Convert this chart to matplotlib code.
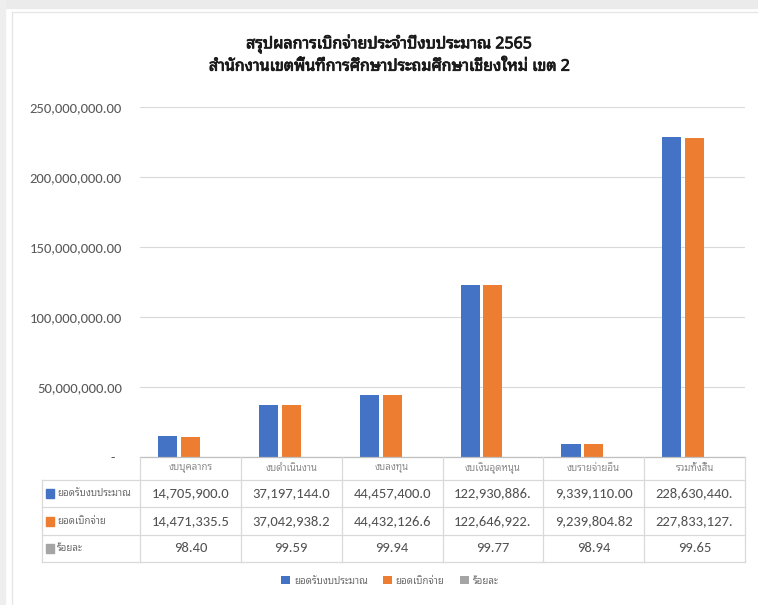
import matplotlib
matplotlib.use("Agg")
import matplotlib.pyplot as plt
import matplotlib.transforms as mtransforms
import matplotlib.patheffects as pe
from matplotlib.patches import Rectangle
from matplotlib.ticker import FuncFormatter
import numpy as np

plt.rcParams['font.family'] = ['Carlito', 'Noto Sans Thai Looped', 'DejaVu Sans']
THAI = ['Noto Sans Thai Looped', 'Carlito']

# ---- ข้อมูล
titre = "สรุปผลการเบิกจ่ายประจำปีงบประมาณ 2565\nสำนักงานเขตพื้นที่การศึกษาประถมศึกษาเชียงใหม่ เขต 2"
categories = ["งบบุคลากร", "งบดำเนินงาน", "งบลงทุน", "งบเงินอุดหนุน", "งบรายจ่ายอื่น", "รวมทั้งสิ้น"]
series_names = ["ยอดรับงบประมาณ", "ยอดเบิกจ่าย", "ร้อยละ"]
budget = [14705900.00, 37197144.00, 44457400.00, 122930886.00, 9339110.00, 228630440.00]
spent = [14471335.50, 37042938.20, 44432126.60, 122646922.00, 9239804.82, 227833127.12]
percent = [98.40, 99.59, 99.94, 99.77, 98.94, 99.65]
colors = ["#4472C4", "#ED7D31", "#A5A5A5"]

W, H = 758, 605
fig = plt.figure(figsize=(W / 100, H / 100), dpi=100)

def fx(px):
    return px / W

def fy(py):
    return 1 - py / H

# cadre de la capture
fig.patches.append(Rectangle((0, fy(8)), 1, 8 / H, transform=fig.transFigure, color="#ebebeb", zorder=0))
fig.patches.append(Rectangle((0, 0), 5 / W, 1, transform=fig.transFigure, color="#eeeeee", zorder=0))
fig.add_artist(plt.Line2D([fx(12), fx(12)], [0, fy(12)], transform=fig.transFigure, color="#e6e6e6", lw=1))
fig.add_artist(plt.Line2D([fx(12), 1], [fy(12), fy(12)], transform=fig.transFigure, color="#e6e6e6", lw=1))

ax = fig.add_axes([fx(140), fy(457), fx(745) - fx(140), (457 - 107) / H])

x = np.arange(len(categories))
width = 0.19
step = 0.225
series = [budget, spent, percent]
bars = []
for k in range(3):
    b = ax.bar(x + (k - 1) * step, series[k], width, color=colors[k], label=series_names[k], zorder=3)
    bars.append(b)

ax.set_xlim(-0.5, len(categories) - 0.5)
ax.set_ylim(0, 250000000)
ax.set_yticks(np.arange(0, 250000001, 50000000))
ax.yaxis.set_major_formatter(FuncFormatter(lambda v, p: "-" if v == 0 else f"{v:,.2f}"))
ax.tick_params(axis="y", length=0, pad=13, labelsize=10.5, labelcolor="#595959")
ax.yaxis.get_major_ticks()[0].label1.set_x(-0.012)
ax.tick_params(axis="x", bottom=False, labelbottom=False)
ax.grid(axis="y", color="#d9d9d9", lw=0.8, zorder=0)
for s in ax.spines.values():
    s.set_visible(False)

# ---- titre
fig.text(fx(389), fy(55), titre, ha="center", va="center", fontsize=11.5, fontweight="bold",
         family=THAI, color="#1a1a1a", linespacing=1.45,
         path_effects=[pe.withStroke(linewidth=0.6, foreground="#1a1a1a")])

# ---- tableau de données
tr = mtransforms.blended_transform_factory(ax.transData, fig.transFigure)
rows = [457, 480, 507, 535, 562]
lc = "#d9d9d9"
xl, xr = -0.5, len(categories) - 0.5
left_px = 42
# lignes horizontales
fig.add_artist(plt.Line2D([xl, xr], [fy(rows[0])] * 2, transform=tr, color="#bfbfbf", lw=0.9))
for r in rows[1:]:
    fig.add_artist(plt.Line2D([fx(left_px), fx(745)], [fy(r)] * 2, transform=fig.transFigure, color=lc, lw=0.9))
# lignes verticales
for c in np.arange(len(categories) + 1) - 0.5:
    fig.add_artist(plt.Line2D([c, c], [fy(rows[0]), fy(rows[-1])], transform=tr, color=lc, lw=0.9))
fig.add_artist(plt.Line2D([fx(left_px)] * 2, [fy(rows[1]), fy(rows[-1])], transform=fig.transFigure, color=lc, lw=0.9))

# en-têtes
for i, cat in enumerate(categories):
    fig.text(i, fy((rows[0] + rows[1]) / 2), cat, transform=tr, ha="center", va="center",
             fontsize=7, family=THAI, color="#8c8c8c")

def cell(v):
    s = f"{v:,.2f}"
    return s[:12]

for k in range(3):
    yc = fy((rows[k + 1] + rows[k + 2]) / 2)
    fig.patches.append(Rectangle((fx(46), yc - 4.5 / H), 8 / W, 9 / H, transform=fig.transFigure,
                                 color=colors[k]))
    fig.text(fx(57), yc, series_names[k], ha="left", va="center", fontsize=7, family=THAI, color="#6b6b6b")
    for i, v in enumerate(series[k]):
        fig.text(i, yc, cell(v), transform=tr, ha="center", va="center", fontsize=10.5, color="#505050")

# légende
leg = fig.legend(handles=bars, labels=series_names, loc="center", bbox_to_anchor=(fx(390), fy(581)),
                 ncol=3, frameon=False, prop={"family": THAI, "size": 7},
                 handlelength=0.9, handleheight=0.9, handletextpad=0.4, columnspacing=1.6)
for t in leg.get_texts():
    t.set_color("#6b6b6b")

fig.savefig("out.png", dpi=100)
